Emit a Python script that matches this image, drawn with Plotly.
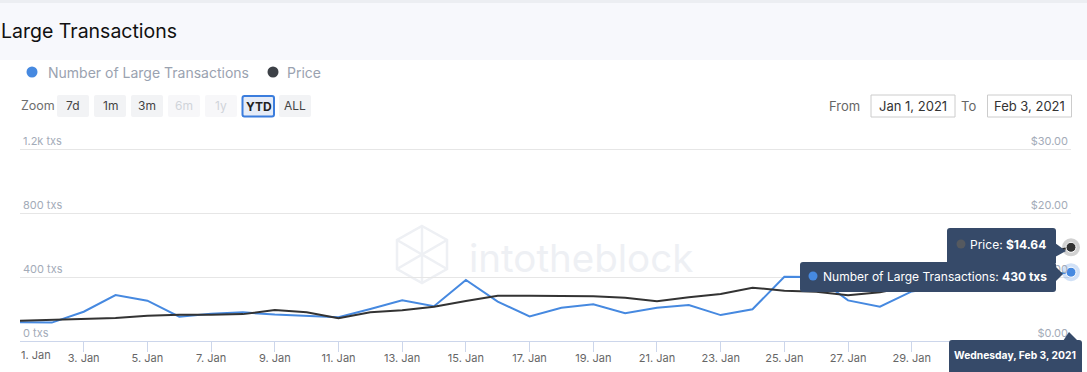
import plotly.graph_objects as go
import pandas as pd

# ---------------- data ----------------
dates = pd.date_range("2021-01-01", "2021-02-03", freq="D")
large_txs = [117, 115, 183, 287, 252, 152, 171, 179, 165, 158, 148, 200, 254, 217,
             381, 246, 154, 208, 229, 173, 208, 225, 162, 198, 402, 400, 254, 214,
             310, 340, 365, 390, 410, 430]
price = [3.17, 3.30, 3.40, 3.60, 3.95, 4.10, 4.10, 4.20, 4.85, 4.50, 3.55, 4.50,
         4.80, 5.35, 6.25, 7.08, 7.08, 7.08, 6.98, 6.77, 6.20, 6.83, 7.35, 8.33,
         7.86, 7.70, 7.14, 7.60, 8.60, 10.00, 11.20, 12.30, 13.50, 14.64]
txs_ticks = [0, 400, 800, 1200]
txs_tick_labels = ["0 txs", "400 txs", "800 txs", "1.2k txs"]
price_ticks = [0, 10, 20, 30]
price_tick_labels = ["$0.00", "$10.00", "$20.00", "$30.00"]
x_tick_dates = list(dates[::2])
x_tick_labels = [d.strftime("%-d. %b") for d in x_tick_dates]
zoom_buttons = ["7d", "1m", "3m", "6m", "1y", "YTD", "ALL"]

BLUE = "#4689e0"
DARK = "#333333"
TIP = "#364a69"
FONT = "Inter"

W, H = 1087, 372
L, R, T, B = 20, 16, 130, 31
PW, PH = W - L - R, H - T - B
TOPTICK_PX = 149          # pixel row of the top gridline
SCALE = PH / (H - B - TOPTICK_PX)   # extend range so top tick sits below plot top


def X(px):
    return (px - L) / PW


def Y(py):
    return (H - B - py) / PH


def rrect(x0, y0, x1, y1, r=3, top_only=False, bottom_only=False):
    rx, ry = r / PW, r / PH
    a, b, c, d = X(x0), Y(y0), X(x1), Y(y1)
    tl = tr = not bottom_only
    bl = br = not top_only
    p = f"M{a + (rx if tl else 0)},{b} L{c - (rx if tr else 0)},{b} "
    p += f"Q{c},{b} {c},{b - ry} " if tr else ""
    p += f"L{c},{d + (ry if br else 0)} "
    p += f"Q{c},{d} {c - rx},{d} " if br else ""
    p += f"L{a + (rx if bl else 0)},{d} "
    p += f"Q{a},{d} {a},{d + ry} " if bl else ""
    p += f"L{a},{b - (ry if tl else 0)} "
    p += f"Q{a},{b} {a + rx},{b} " if tl else ""
    return p + "Z"


def poly(pts):
    return "M" + " L".join(f"{X(x)},{Y(y)}" for x, y in pts) + " Z"


shapes = []
annotations = []


def add_shape(path, fill, line_color=None, line_width=0, layer="above"):
    shapes.append(dict(type="path", path=path, xref="paper", yref="paper",
                       fillcolor=fill, layer=layer,
                       line=dict(color=line_color or fill, width=line_width)))


def add_circle(cx, cy, r, fill, layer="above"):
    shapes.append(dict(type="circle", xref="paper", yref="paper",
                       x0=X(cx - r), x1=X(cx + r), y0=Y(cy + r), y1=Y(cy - r),
                       fillcolor=fill, line=dict(width=0), layer=layer))


def add_text(x, y, text, size=13, color="#333", xanchor="left", family=FONT, **kw):
    annotations.append(dict(x=X(x), y=Y(y), xref="paper", yref="paper", text=text,
                            showarrow=False, xanchor=xanchor, yanchor="middle",
                            font=dict(size=size, color=color, family=family), **kw))


# ---------------- header ----------------
shapes.append(dict(type="rect", xref="paper", yref="paper", x0=X(0), x1=X(W),
                   y0=Y(60), y1=Y(0), fillcolor="#f7f8fc", line=dict(width=0), layer="below"))
shapes.append(dict(type="rect", xref="paper", yref="paper", x0=X(0), x1=X(W),
                   y0=Y(3), y1=Y(0), fillcolor="#eceef2", line=dict(width=0), layer="below"))
add_text(-1, 31, "Large Transactions", size=19.5, color="#111111")

# legend
add_circle(32, 72, 5.5, BLUE)
add_text(46, 72, "Number of Large Transactions", size=14, color="#9aa2b0")
add_circle(273, 72, 5.5, "#3d4147")
add_text(285, 72, "Price", size=14, color="#9aa2b0")

# zoom buttons
add_text(19, 106, "Zoom", size=12.5, color="#6e6e6e")
btn_x = [57, 94, 131, 168, 205, 242, 279]
for lbl, bx in zip(zoom_buttons, btn_x):
    if lbl == "YTD":
        add_shape(rrect(bx + 0.5, 96, bx + 32, 116.5, 2), "#e6ecf7", "#3b7ddd", 2)
        add_text(bx + 16.5, 106.5, "<b>YTD</b>", size=12, color="#222222", xanchor="center")
    else:
        disabled = lbl in ("6m", "1y")
        add_shape(rrect(bx, 95, bx + 32, 117, 2), "#f7f7f9" if disabled else "#f2f3f5")
        add_text(bx + 16, 106, lbl, size=12, color="#d0d4da" if disabled else "#444444",
                 xanchor="center")

# from / to
add_text(862, 106, "From", size=13, color="#666666", xanchor="right")
shapes.append(dict(type="rect", xref="paper", yref="paper", x0=X(871), x1=X(955),
                   y0=Y(117), y1=Y(95), fillcolor="white", line=dict(color="#cccccc", width=1)))
add_text(913, 106, dates[0].strftime("%b %-d, %Y"), size=13, color="#333333", xanchor="center")
add_text(978, 106, "To", size=13, color="#666666", xanchor="right")
shapes.append(dict(type="rect", xref="paper", yref="paper", x0=X(987.5), x1=X(1071.5),
                   y0=Y(117), y1=Y(95), fillcolor="white", line=dict(color="#cccccc", width=1)))
add_text(1029.5, 106, dates[-1].strftime("%b %-d, %Y"), size=13, color="#333333", xanchor="center")

# watermark
WM = "#eef0f4"
hexpts = [(422, 226), (447, 240), (447, 269), (422, 283), (397, 269), (397, 240)]
shapes.append(dict(type="path", path=poly(hexpts), xref="paper", yref="paper",
                   line=dict(color=WM, width=2.5), layer="below"))
for (x0, y0), (x1, y1) in [((397, 240), (447, 269)), ((447, 240), (397, 269)),
                           ((422, 226), (422, 254)), ((422, 254), (422, 283))]:
    shapes.append(dict(type="line", xref="paper", yref="paper", x0=X(x0), y0=Y(y0),
                       x1=X(x1), y1=Y(y1), line=dict(color=WM, width=2.5), layer="below"))
add_text(467, 258, "intotheblock", size=38.5, color=WM)

# first x label, left-aligned like the reference
add_text(19, 355, x_tick_labels[0], size=11, color="#666666")

# x labels hidden under the date tooltip in the reference
shown_x_labels = [""] + x_tick_labels[1:-2] + ["", ""]

# ---------------- traces ----------------
fig = go.Figure()
fig.add_trace(go.Scatter(x=dates, y=large_txs, mode="lines", name="Number of Large Transactions",
                         line=dict(color=BLUE, width=2), yaxis="y"))
fig.add_trace(go.Scatter(x=dates, y=price, mode="lines", name="Price",
                         line=dict(color=DARK, width=2), yaxis="y2"))
fig.add_trace(go.Scatter(x=[dates[-1]], y=[price[-1]], mode="markers", yaxis="y2", cliponaxis=False,
                         marker=dict(size=18, color="rgba(0,0,0,0.18)")))
fig.add_trace(go.Scatter(x=[dates[-1]], y=[price[-1]], mode="markers", yaxis="y2", cliponaxis=False,
                         marker=dict(size=10, color=DARK, line=dict(color="white", width=1))))
fig.add_trace(go.Scatter(x=[dates[-1]], y=[large_txs[-1]], mode="markers", yaxis="y", cliponaxis=False,
                         marker=dict(size=18, color="rgba(70,137,224,0.25)")))
fig.add_trace(go.Scatter(x=[dates[-1]], y=[large_txs[-1]], mode="markers", yaxis="y", cliponaxis=False,
                         marker=dict(size=10, color=BLUE, line=dict(color="white", width=1))))

# ---------------- tooltips ----------------
add_shape(rrect(947, 228, 1056, 263, 3, top_only=True), TIP)
add_shape(poly([(1055, 243), (1066, 251), (1055, 257)]), TIP)
add_shape(rrect(800, 262, 1056, 292, 3), TIP)
add_shape(poly([(1055, 266), (1063, 274), (1055, 282)]), TIP)
add_circle(961, 244, 4.5, "#55595f")
add_text(968, 244.5, f"Price: <b>${price[-1]:.2f}</b>", size=12, color="white")
add_circle(813, 276, 4.5, BLUE)
add_text(821, 276.5, f"Number of Large Transactions: <b>{large_txs[-1]} txs</b>", size=12, color="white")
add_shape(rrect(949, 340, 1082, 380, 3), TIP)
add_shape(poly([(1063, 341), (1069, 332), (1078, 341)]), TIP)
add_text(1015, 355, f"<b>{dates[-1].strftime('%A, %b %-d, %Y')}</b>", size=10.3, color="white",
         xanchor="center")

fig.update_layout(
    width=W, height=H,
    margin=dict(l=L, r=R, t=T, b=B, pad=0, autoexpand=False),
    paper_bgcolor="white", plot_bgcolor="rgba(0,0,0,0)",
    showlegend=False, hovermode=False,
    font=dict(family=FONT),
    shapes=shapes, annotations=annotations,
    xaxis=dict(type="date", range=[dates[0], dates[-1]], tickvals=x_tick_dates,
               ticktext=shown_x_labels, ticks="outside", ticklen=10,
               tickcolor="#ccd6eb", showline=True, linecolor="#ccd6eb", linewidth=1,
               showgrid=False, zeroline=False, fixedrange=True, automargin=False,
               ticklabelstandoff=-3,
               tickfont=dict(size=11, color="#666666", family=FONT)),
    yaxis=dict(range=[0, 1200 * SCALE], tickvals=txs_ticks, ticktext=txs_tick_labels,
               ticklabelposition="inside top", showgrid=True, gridcolor="#e6e6e6",
               zeroline=False, showline=False, fixedrange=True, automargin=False,
               tickfont=dict(size=11, color="#a3abb8", family=FONT)),
    yaxis2=dict(range=[0, 30 * SCALE], tickvals=price_ticks, ticktext=price_tick_labels,
                overlaying="y", side="right", ticklabelposition="inside top",
                showgrid=False, zeroline=False, showline=False, fixedrange=True,
                automargin=False,
                tickfont=dict(size=11, color="#a3abb8", family=FONT)),
)

fig.write_html("out.html", config={"displayModeBar": False},
               post_script="document.body.style.margin='0';")
